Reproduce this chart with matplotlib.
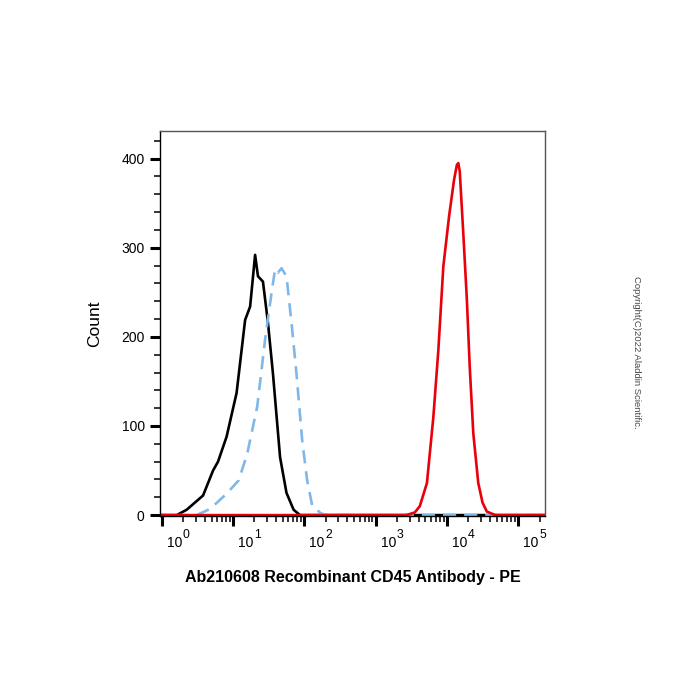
import numpy as np
import matplotlib
matplotlib.use("Agg")
import matplotlib.pyplot as plt
from matplotlib.ticker import FixedLocator, NullFormatter

plt.rcParams['font.family'] = ['Liberation Sans', 'DejaVu Sans']

# fluorescence in log10 decades, counts
black_log = [-0.1, 0.21, 0.35, 0.58, 0.72, 0.79, 0.91, 1.05, 1.17, 1.24, 1.31,
             1.35, 1.42, 1.49, 1.56, 1.66, 1.75, 1.85, 1.94, 5.5]
black_cnt = [0, 0, 6, 22, 50, 60, 88, 137, 219, 234, 292,
             268, 262, 216, 159, 65, 25, 6, 0, 0]

blue_log = [-0.1, 0.49, 0.68, 0.91, 1.08, 1.20, 1.34, 1.45, 1.54, 1.59, 1.63,
            1.68, 1.75, 1.82, 1.89, 1.97, 2.04, 2.11, 2.23, 2.32, 5.5]
blue_cnt = [0, 0, 7, 24, 39, 69, 122, 197, 249, 276, 272,
            277, 268, 216, 159, 84, 39, 11, 2, 0, 0]

red_log = [-0.1, 3.43, 3.55, 3.62, 3.72, 3.81, 3.88, 3.95, 4.03, 4.10, 4.14,
           4.16, 4.18, 4.23, 4.28, 4.32, 4.37, 4.44, 4.50, 4.56, 4.68, 5.5]
red_cnt = [0, 0, 3, 10, 36, 110, 185, 279, 335, 376, 393,
           395, 386, 316, 242, 167, 92, 36, 14, 4, 0, 0]

decades = [0, 1, 2, 3, 4, 5]
xlabel = "Ab210608 Recombinant CD45 Antibody - PE"

fig = plt.figure(figsize=(7, 7), dpi=100)
ax = fig.add_axes([160/700, 184/700, 385/700, 385/700])

ax.plot(10**np.array(black_log), black_cnt, color='black', lw=1.9)
ax.plot(10**np.array(blue_log), blue_cnt, color='#7fb8e8', lw=1.9,
        dashes=(5, 3))
ax.plot(10**np.array(red_log), red_cnt, color='#e8000b', lw=1.9)

ax.set_xscale('log')
ax.set_xlim(10**-0.024, 10**5.376)
ax.set_ylim(-1, 431)

ax.xaxis.set_major_locator(FixedLocator([10.0**d for d in decades]))
ax.xaxis.set_major_formatter(NullFormatter())
minors = [m * 10.0**d for d in decades for m in range(2, 10)]
ax.xaxis.set_minor_locator(FixedLocator(minors))
ax.xaxis.set_minor_formatter(NullFormatter())

# decade labels: "10" plus a raised exponent, sitting right of each tick
for d in decades:
    ax.annotate('10', xy=(10.0**d, 0), xycoords=('data', 'axes fraction'),
                xytext=(3.6, -22.3), textcoords='offset points',
                ha='left', va='baseline', fontsize=10)
    ax.annotate(str(d), xy=(10.0**d, 0), xycoords=('data', 'axes fraction'),
                xytext=(15.3, -16.0), textcoords='offset points',
                ha='left', va='baseline', fontsize=8.8)

ax.set_yticks([0, 100, 200, 300, 400])
ax.set_yticks(np.arange(0, 431, 20), minor=True)

ax.tick_params(which='major', direction='out', length=7, width=2.2,
               labelsize=10, color='black')
ax.tick_params(which='minor', direction='out', length=4, width=1.1,
               color='black')
ax.tick_params(axis='y', which='major', pad=4)

for s in ['top', 'right']:
    ax.spines[s].set_color('#555555')
    ax.spines[s].set_linewidth(1.0)
for s in ['left', 'bottom']:
    ax.spines[s].set_color('black')
    ax.spines[s].set_linewidth(1.0)

ax.set_ylabel('Count', fontsize=12.5)
ax.yaxis.set_label_coords(-0.15, 0.5)
ax.set_xlabel(xlabel, fontsize=11.5, fontweight='bold')
ax.xaxis.set_label_coords(0.5, -0.14)

fig.text(0.909, 0.497, 'Copyright(C)2022 Aladdin Scientific.', rotation=-90,
         fontsize=6.8, color='#444444', ha='center', va='center')

fig.savefig('out.png', dpi=100)
